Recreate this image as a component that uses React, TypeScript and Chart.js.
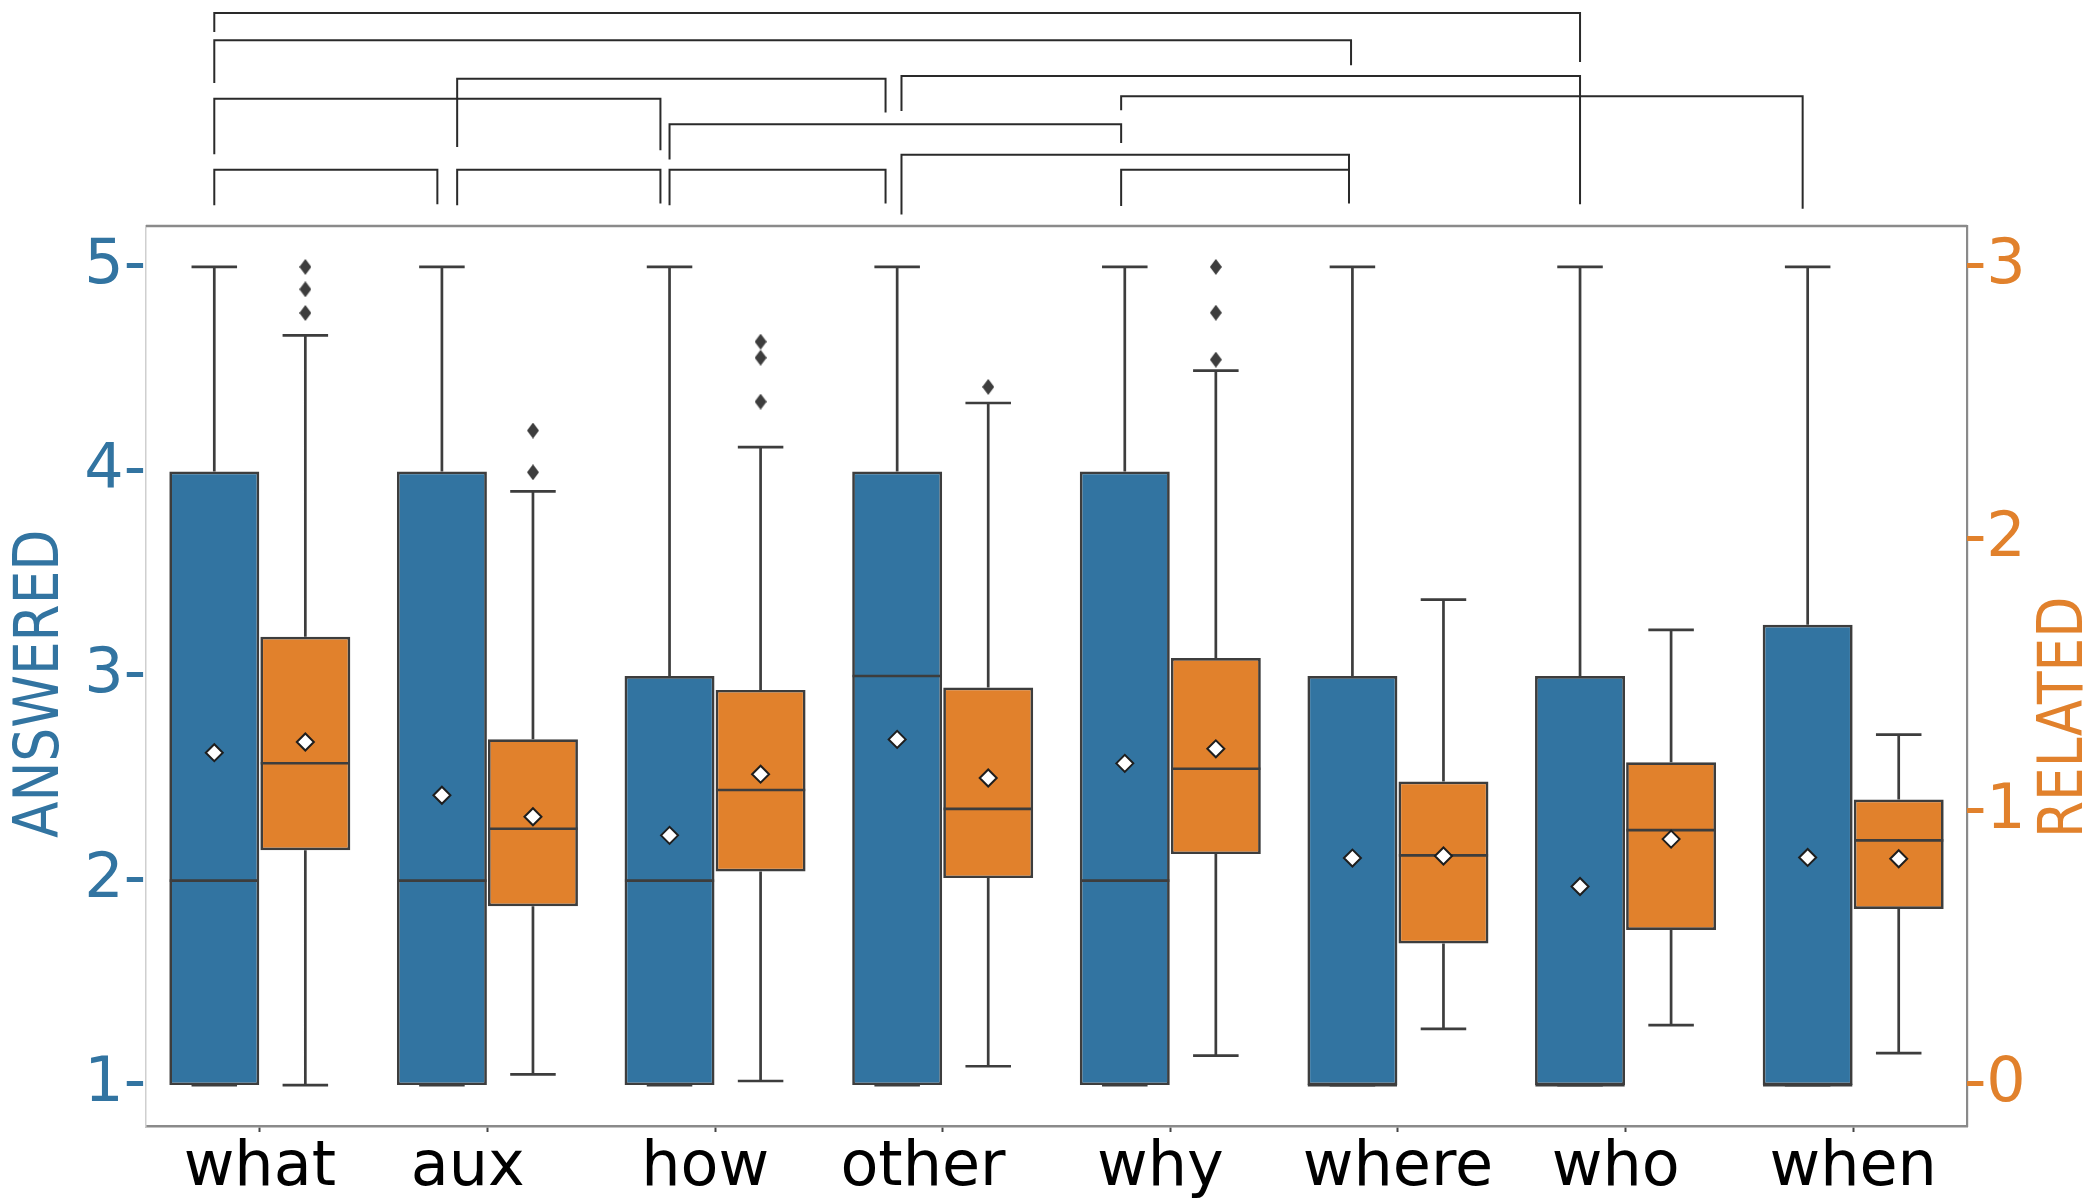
import React, { useEffect, useRef } from 'react';
import { Chart, registerables } from 'chart.js';

Chart.register(...registerables);

// Question types on the x axis
const CATEGORIES = ['what', 'aux', 'how', 'other', 'why', 'where', 'who', 'when'];
// Tick label strings as printed under each category (some carry trailing blanks)
const TICK_LABELS = ['what', 'aux  ', 'how ', 'other  ', 'why ', 'where', 'who ', 'when'];

// ANSWERED score distribution (left axis)
const ANSWERED_LOW = [1, 1, 1, 1, 1, 1, 1, 1];
const ANSWERED_Q1 = [1, 1, 1, 1, 1, 1, 1, 1];
const ANSWERED_MEDIAN = [2, 2, 2, 3, 2, 1, 1, 1];
const ANSWERED_Q3 = [4, 4, 3, 4, 4, 3, 3, 3.25];
const ANSWERED_HIGH = [5, 5, 5, 5, 5, 5, 5, 5];
const ANSWERED_MEAN = [2.625, 2.417, 2.221, 2.69, 2.573, 2.11, 1.971, 2.113];

// RELATED score distribution (right axis)
const RELATED_LOW = [0, 0.039, 0.015, 0.069, 0.108, 0.206, 0.22, 0.117];
const RELATED_Q1 = [0.861, 0.656, 0.783, 0.759, 0.847, 0.519, 0.569, 0.646];
const RELATED_MEDIAN = [1.18, 0.94, 1.082, 1.013, 1.16, 0.842, 0.935, 0.897];
const RELATED_Q3 = [1.644, 1.268, 1.449, 1.458, 1.566, 1.113, 1.184, 1.047];
const RELATED_HIGH = [2.749, 2.177, 2.339, 2.501, 2.62, 1.78, 1.669, 1.285];
const RELATED_MEAN = [1.258, 0.984, 1.14, 1.126, 1.233, 0.84, 0.902, 0.83];
const RELATED_OUTLIERS = [
  [2.831, 2.918, 3.0],
  [2.247, 2.4],
  [2.506, 2.667, 2.726],
  [2.56],
  [2.66, 2.832, 3.0],
  [],
  [],
  [],
];

const ANSWERED_TICKS = [1, 2, 3, 4, 5];
const RELATED_TICKS = [0, 1, 2, 3];

// Significance brackets between ANSWERED boxes: endpoints as category positions,
// heights in axes-fraction units above the plot frame.
const BRACKET_START = [0, 0, 0, 1.067, 3.019, 3.984, 2, 3.019, 3.984, 0, 1.067, 2];
const BRACKET_END = [6, 4.994, 1.96, 2.949, 6, 6.978, 3.984, 4.985, 4.985, 0.98, 1.96, 2.949];
const BRACKET_LEVEL = [1.2366, 1.2063, 1.1415, 1.1637, 1.1666, 1.1441, 1.113, 1.0793, 1.0626, 1.0626, 1.0626, 1.0626];
const BRACKET_START_TIP = [1.2155, 1.1588, 1.0796, 1.0877, 1.1277, 1.1285, 1.0738, 1.0127, 1.0222, 1.023, 1.023, 1.023];
const BRACKET_END_TIP = [1.1822, 1.1785, 1.0841, 1.126, 1.0241, 1.0193, 1.0922, 1.0619, 1.0249, 1.0241, 1.0249, 1.0249];

const BLUE = '#3274a1';
const ORANGE = '#e1812c';
const EDGE = '#3d3d3d';
const FONT = '"DejaVu Sans"';

// hue dodge: ANSWERED boxes sit left of the category centre, RELATED boxes right
const HUE_SHIFT = 0.2;
const BOX_HALF = 0.196;
const CAP_HALF = 0.1;

type Pt = { x: number; y: number | null };

function boxData(q1: number[], q3: number[], shift: number) {
  return q1.map((q, i) => ({ x: i + shift, y: [q, q3[i]] }));
}

function whiskerPoints(low: number[], q1: number[], q3: number[], high: number[], shift: number): Pt[] {
  const pts: Pt[] = [];
  low.forEach((lo, i) => {
    const x = i + shift;
    pts.push({ x, y: q3[i] }, { x, y: high[i] }, { x, y: null });
    pts.push({ x: x - CAP_HALF, y: high[i] }, { x: x + CAP_HALF, y: high[i] }, { x, y: null });
    pts.push({ x, y: q1[i] }, { x, y: lo }, { x, y: null });
    pts.push({ x: x - CAP_HALF, y: lo }, { x: x + CAP_HALF, y: lo }, { x, y: null });
  });
  return pts;
}

function medianPoints(median: number[], shift: number): Pt[] {
  const pts: Pt[] = [];
  median.forEach((m, i) => {
    const x = i + shift;
    pts.push({ x: x - BOX_HALF, y: m }, { x: x + BOX_HALF, y: m }, { x, y: null });
  });
  return pts;
}

function meanPoints(mean: number[], shift: number): Pt[] {
  return mean.map((m, i) => ({ x: i + shift, y: m }));
}

function outlierPoints(outliers: number[][], shift: number): Pt[] {
  const pts: Pt[] = [];
  outliers.forEach((list, i) => list.forEach((v) => pts.push({ x: i + shift, y: v })));
  return pts;
}

function thinDiamond(): HTMLCanvasElement {
  const c = document.createElement('canvas');
  c.width = 12;
  c.height = 16;
  const g = c.getContext('2d')!;
  g.fillStyle = EDGE;
  g.beginPath();
  g.moveTo(6, 0);
  g.lineTo(12, 8);
  g.lineTo(6, 16);
  g.lineTo(0, 8);
  g.closePath();
  g.fill();
  return c;
}

const annotations = {
  id: 'annotations',
  afterDraw(chart: any) {
    const { ctx, chartArea } = chart;
    const xp = chart.scales.xp;
    const h = chartArea.bottom - chartArea.top;
    const fy = (f: number) => chartArea.bottom - f * h;

    // top edge of the frame
    ctx.save();
    ctx.strokeStyle = '#8a8a8a';
    ctx.lineWidth = 2.5;
    ctx.beginPath();
    ctx.moveTo(chartArea.left, chartArea.top);
    ctx.lineTo(chartArea.right, chartArea.top);
    ctx.stroke();
    ctx.restore();

    // brackets
    ctx.save();
    ctx.strokeStyle = '#2a2a2a';
    ctx.lineWidth = 2;
    ctx.lineJoin = 'miter';
    BRACKET_START.forEach((s, i) => {
      const x1 = xp.getPixelForValue(s - HUE_SHIFT);
      const x2 = xp.getPixelForValue(BRACKET_END[i] - HUE_SHIFT);
      const yl = fy(BRACKET_LEVEL[i]);
      ctx.beginPath();
      ctx.moveTo(x1, fy(BRACKET_START_TIP[i]));
      ctx.lineTo(x1, yl);
      ctx.lineTo(x2, yl);
      ctx.lineTo(x2, fy(BRACKET_END_TIP[i]));
      ctx.stroke();
    });
    ctx.restore();

    // axis titles, both reading bottom to top
    const title = (text: string, x: number, color: string) => {
      ctx.save();
      ctx.translate(x, fy(0.32));
      ctx.rotate(-Math.PI / 2);
      ctx.scale(0.86, 1);
      ctx.font = `62px ${FONT}`;
      ctx.fillStyle = color;
      ctx.textAlign = 'left';
      ctx.textBaseline = 'alphabetic';
      ctx.fillText(text, 0, 0);
      ctx.restore();
    };
    title('ANSWERED', 58, BLUE);
    title('RELATED', chart.width - 7, ORANGE);
  },
};

export default function App() {
  const ref = useRef<HTMLCanvasElement | null>(null);

  useEffect(() => {
    document.body.style.margin = '0';
    const canvas = ref.current;
    if (!canvas) return;
    const outlierStyle = thinDiamond();

    const lineBase = {
      type: 'line' as const,
      xAxisID: 'xp',
      borderColor: EDGE,
      borderWidth: 2.7,
      pointRadius: 0,
      spanGaps: false,
      tension: 0,
    };

    const boxBase = {
      type: 'bar' as const,
      xAxisID: 'xp',
      borderColor: EDGE,
      borderWidth: 2.7,
      borderSkipped: false,
      grouped: false,
      categoryPercentage: 1,
      barPercentage: 0.988,
      order: 5,
    };

    const chart = new Chart(canvas, {
      type: 'bar',
      data: {
        labels: CATEGORIES,
        datasets: [
          {
            ...boxBase,
            label: 'ANSWERED',
            yAxisID: 'y',
            data: boxData(ANSWERED_Q1, ANSWERED_Q3, -HUE_SHIFT) as any,
            backgroundColor: BLUE,
          },
          {
            ...boxBase,
            label: 'RELATED',
            yAxisID: 'y1',
            data: boxData(RELATED_Q1, RELATED_Q3, HUE_SHIFT) as any,
            backgroundColor: ORANGE,
          },
          {
            ...lineBase,
            label: 'ANSWERED whiskers',
            yAxisID: 'y',
            data: whiskerPoints(ANSWERED_LOW, ANSWERED_Q1, ANSWERED_Q3, ANSWERED_HIGH, -HUE_SHIFT) as any,
            order: 4,
          },
          {
            ...lineBase,
            label: 'RELATED whiskers',
            yAxisID: 'y1',
            data: whiskerPoints(RELATED_LOW, RELATED_Q1, RELATED_Q3, RELATED_HIGH, HUE_SHIFT) as any,
            order: 4,
          },
          {
            ...lineBase,
            label: 'ANSWERED median',
            yAxisID: 'y',
            data: medianPoints(ANSWERED_MEDIAN, -HUE_SHIFT) as any,
            order: 3,
          },
          {
            ...lineBase,
            label: 'RELATED median',
            yAxisID: 'y1',
            data: medianPoints(RELATED_MEDIAN, HUE_SHIFT) as any,
            order: 3,
          },
          {
            type: 'line',
            label: 'RELATED outliers',
            xAxisID: 'xp',
            yAxisID: 'y1',
            data: outlierPoints(RELATED_OUTLIERS, HUE_SHIFT) as any,
            showLine: false,
            pointStyle: outlierStyle as any,
            pointRadius: 6,
            order: 2,
          },
          {
            type: 'line',
            label: 'ANSWERED mean',
            xAxisID: 'xp',
            yAxisID: 'y',
            data: meanPoints(ANSWERED_MEAN, -HUE_SHIFT) as any,
            showLine: false,
            pointStyle: 'rectRot',
            pointRadius: 8.5,
            pointBackgroundColor: '#ffffff',
            pointBorderColor: '#1e1e1e',
            pointBorderWidth: 2,
            order: 1,
          },
          {
            type: 'line',
            label: 'RELATED mean',
            xAxisID: 'xp',
            yAxisID: 'y1',
            data: meanPoints(RELATED_MEAN, HUE_SHIFT) as any,
            showLine: false,
            pointStyle: 'rectRot',
            pointRadius: 8.5,
            pointBackgroundColor: '#ffffff',
            pointBorderColor: '#1e1e1e',
            pointBorderWidth: 2,
            order: 1,
          },
        ] as any,
      },
      options: {
        responsive: false,
        animation: false,
        devicePixelRatio: 1,
        events: [],
        layout: { padding: { top: 226, left: 0, right: 0, bottom: 0 } },
        plugins: {
          legend: { display: false },
          tooltip: { enabled: false },
        },
        scales: {
          x: {
            type: 'category',
            offset: true,
            grid: {
              display: true,
              offset: false,
              drawOnChartArea: false,
              drawTicks: true,
              tickLength: 6,
              tickColor: '#444444',
              tickWidth: 2,
            },
            border: { display: true, color: '#8a8a8a', width: 2.5 },
            ticks: {
              color: '#000000',
              font: { family: 'DejaVu Sans', size: 62 },
              padding: 0,
              maxRotation: 0,
              autoSkip: false,
              callback: (_v: any, i: number) => TICK_LABELS[i],
            },
            afterFit: (scale: any) => {
              scale.height = 73;
            },
          },
          xp: {
            type: 'linear',
            display: false,
            min: -0.5,
            max: 7.5,
            offset: false,
            afterBuildTicks: (scale: any) => {
              scale.ticks = CATEGORIES.map((_, i) => ({ value: i }));
            },
          },
          y: {
            type: 'linear',
            position: 'left',
            min: 0.8,
            max: 5.2,
            grid: { display: true, drawOnChartArea: false, drawTicks: false },
            border: { display: true, color: '#cfcfcf', width: 1.5 },
            ticks: {
              color: BLUE,
              font: { family: 'DejaVu Sans', size: 62 },
              padding: 0,
              autoSkip: false,
              callback: (v: any) => `${v}-`,
            },
            afterBuildTicks: (scale: any) => {
              scale.ticks = ANSWERED_TICKS.map((value) => ({ value }));
            },
            afterFit: (scale: any) => {
              scale.width = 146;
            },
          },
          y1: {
            type: 'linear',
            position: 'right',
            min: -0.15,
            max: 3.15,
            grid: { display: true, drawOnChartArea: false, drawTicks: false },
            border: { display: true, color: '#8a8a8a', width: 2.2 },
            ticks: {
              color: ORANGE,
              font: { family: 'DejaVu Sans', size: 62 },
              padding: -3,
              autoSkip: false,
              callback: (v: any) => `-${v}`,
            },
            afterBuildTicks: (scale: any) => {
              scale.ticks = RELATED_TICKS.map((value) => ({ value }));
            },
            afterFit: (scale: any) => {
              scale.width = 122;
            },
          },
        },
      } as any,
      plugins: [annotations],
    });

    return () => chart.destroy();
  }, []);

  return (
    <canvas
      ref={ref}
      width={2089}
      height={1199}
      style={{ display: 'block', width: 2089, height: 1199 }}
    />
  );
}
